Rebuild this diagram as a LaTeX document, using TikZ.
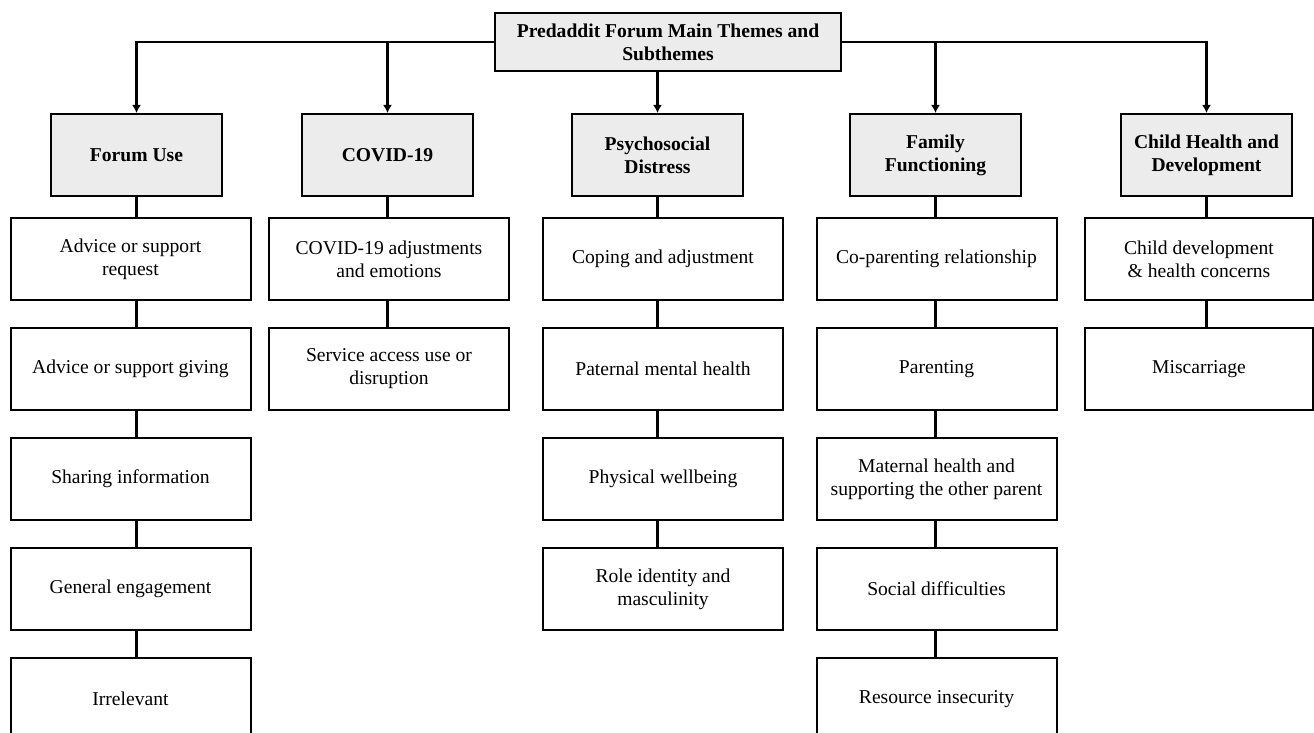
\documentclass[tikz,border=0pt]{standalone}
\usepackage{fontspec}
\setmainfont{Liberation Serif}
\usetikzlibrary{arrows.meta, positioning}

\begin{document}
\begin{tikzpicture}[
    x=0.5pt, y=-0.5pt,
    >={Latex[length=4pt, width=4.5pt]},
    every node/.style={font=\fontsize{9.8}{11.5}\selectfont},
    root/.style ={draw, line width=1pt, fill=gray!15, align=center,
                  font=\fontsize{9.8}{11.5}\selectfont\bfseries,
                  minimum width=173pt, minimum height=29pt},
    theme/.style={draw, line width=1pt, fill=gray!15, align=center,
                  font=\fontsize{9.8}{11.5}\selectfont\bfseries,
                  minimum width=85.5pt, minimum height=41pt},
    sub/.style  ={draw, line width=1pt, fill=white, align=center,
                  minimum width=120pt, minimum height=41pt},
    link/.style ={line width=1.4pt},
    flow/.style ={->, line width=1.4pt},
]
\useasboundingbox (0,0) rectangle (1314,733);

% main theme and themes
\node[root]  (top)    at (668,42)    {Predaddit Forum Main Themes and\\Subthemes};
\node[theme] (use)    at (136.5,155) {Forum Use};
\node[theme] (covid)  at (387.5,155) {COVID-19};
\node[theme] (psych)  at (657.5,155) {Psychosocial\\Distress};
\node[theme] (family) at (935.5,155) {Family\\Functioning};
\node[theme] (child)  at (1206.5,155) {Child Health and\\Development};

% subthemes
\node[sub, below=10pt of use, xshift=-3pt] (use1) {Advice or support\\request};
\node[sub, below=13pt of use1] (use2) {Advice or support giving};
\node[sub, below=13pt of use2] (use3) {Sharing information};
\node[sub, below=13pt of use3] (use4) {General engagement};
\node[sub, below=13pt of use4] (use5) {Irrelevant};

\node[sub, below=10pt of covid, xshift=0.75pt] (covid1) {COVID-19 adjustments\\and emotions};
\node[sub, below=13pt of covid1] (covid2) {Service access use or\\disruption};

\node[sub, below=10pt of psych, xshift=2.75pt] (psych1) {Coping and adjustment};
\node[sub, below=13pt of psych1] (psych2) {Paternal mental health};
\node[sub, below=13pt of psych2] (psych3) {Physical wellbeing};
\node[sub, below=13pt of psych3] (psych4) {Role identity and\\masculinity};

\node[sub, below=10pt of family, xshift=0.5pt] (family1) {Co-parenting relationship};
\node[sub, below=13pt of family1] (family2) {Parenting};
\node[sub, below=13pt of family2] (family3) {Maternal health and\\supporting the other parent};
\node[sub, below=13pt of family3] (family4) {Social difficulties};
\node[sub, below=13pt of family4] (family5) {Resource insecurity};

\node[sub, minimum width=114pt, below=10pt of child, xshift=-3.75pt] (child1) {Child development\\\& health concerns};
\node[sub, minimum width=114pt, below=13pt of child1] (child2) {Miscarriage};

% arrows from the main theme
\draw[flow] (top.west) -| (use.north);
\draw[flow] (top.east) -| (child.north);
\draw[flow] (top.west -| covid.north) -- (covid.north);
\draw[flow] (top.south -| psych.north) -- (psych.north);
\draw[flow] (top.east -| family.north) -- (family.north);

% column links
\draw[link] (use.south) -- (use.south |- use1.north);
\draw[link] (use.south |- use1.south) -- (use.south |- use2.north);
\draw[link] (use.south |- use2.south) -- (use.south |- use3.north);
\draw[link] (use.south |- use3.south) -- (use.south |- use4.north);
\draw[link] (use.south |- use4.south) -- (use.south |- use5.north);

\draw[link] (covid.south) -- (covid.south |- covid1.north);
\draw[link] (covid.south |- covid1.south) -- (covid.south |- covid2.north);

\draw[link] (psych.south) -- (psych.south |- psych1.north);
\draw[link] (psych.south |- psych1.south) -- (psych.south |- psych2.north);
\draw[link] (psych.south |- psych2.south) -- (psych.south |- psych3.north);
\draw[link] (psych.south |- psych3.south) -- (psych.south |- psych4.north);

\draw[link] (family.south) -- (family.south |- family1.north);
\draw[link] (family.south |- family1.south) -- (family.south |- family2.north);
\draw[link] (family.south |- family2.south) -- (family.south |- family3.north);
\draw[link] (family.south |- family3.south) -- (family.south |- family4.north);
\draw[link] (family.south |- family4.south) -- (family.south |- family5.north);

\draw[link] (child.south) -- (child.south |- child1.north);
\draw[link] (child.south |- child1.south) -- (child.south |- child2.north);
\end{tikzpicture}
\end{document}
